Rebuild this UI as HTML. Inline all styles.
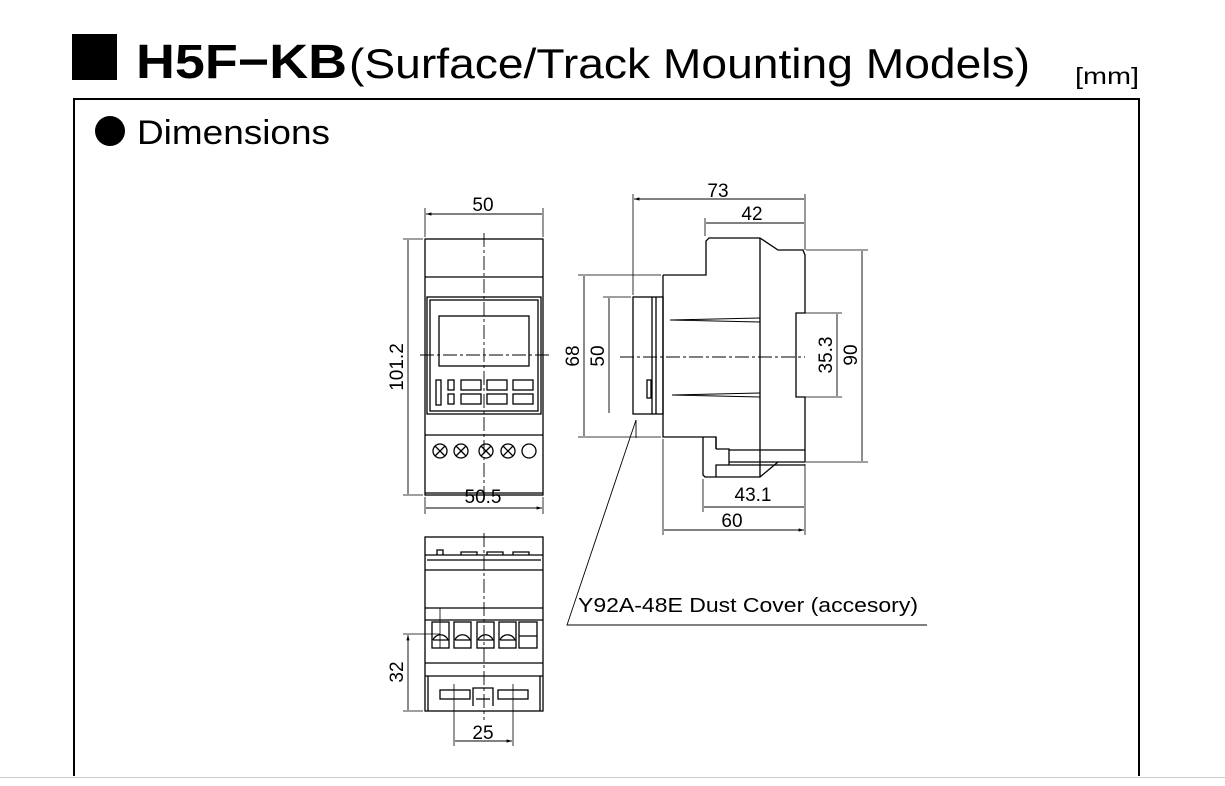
<!DOCTYPE html>
<html><head><meta charset="utf-8"><style>
body{margin:0;background:#fff;width:1225px;height:786px;overflow:hidden}
svg{display:block}
text{font-family:"Liberation Sans",sans-serif;fill:#000}
</style></head><body>
<svg width="1225" height="786" viewBox="0 0 1225 786">
<defs><marker id="a" viewBox="0 0 10 10" refX="10" refY="5" markerWidth="8" markerHeight="6" orient="auto-start-reverse"><path d="M0,2 L10,5 L0,8z" fill="#000"/></marker></defs>
<rect x="72" y="34" width="45" height="46" fill="#000"/>
<text x="136" y="78" font-size="48" font-weight="bold" textLength="211" lengthAdjust="spacingAndGlyphs">H5F−KB</text>
<text x="349" y="78" font-size="42" textLength="681" lengthAdjust="spacingAndGlyphs">(Surface/Track Mounting Models)</text>
<text x="1075" y="84" font-size="23" textLength="64" lengthAdjust="spacingAndGlyphs">[mm]</text>
<path d="M74,776 V99 H1139 V776" fill="none" stroke="#000" stroke-width="2"/>
<line x1="0" y1="777.5" x2="1225" y2="777.5" stroke="#ccc"/>
<circle cx="110" cy="131" r="15" fill="#000"/>
<text x="137" y="144" font-size="34" textLength="193" lengthAdjust="spacingAndGlyphs">Dimensions</text>
<g fill="none" stroke="#000" stroke-width="1.3">
<!-- front view -->
<rect x="425" y="239" width="118" height="256"/>
<line x1="425" y1="277" x2="543" y2="277"/>
<rect x="427" y="297" width="114" height="117"/><rect x="430" y="300" width="108" height="111"/>
<rect x="439" y="316" width="90" height="50"/>
<rect x="436" y="380" width="5" height="25"/>
<rect x="448" y="380" width="6" height="10"/><rect x="448" y="394" width="6" height="10"/>
<rect x="461" y="380" width="20" height="10"/><rect x="461" y="394" width="20" height="10"/>
<rect x="487" y="380" width="20" height="10"/><rect x="487" y="394" width="20" height="10"/>
<rect x="513" y="380" width="20" height="10"/><rect x="513" y="394" width="20" height="10"/>
<line x1="425" y1="435" x2="543" y2="435"/><line x1="425" y1="493" x2="543" y2="493"/>
<g><circle cx="440" cy="451" r="7"/><path d="M435,446l10,10M445,446l-10,10"/>
<circle cx="461" cy="451" r="7"/><path d="M456,446l10,10M466,446l-10,10"/>
<circle cx="486" cy="451" r="7"/><path d="M481,446l10,10M491,446l-10,10"/>
<circle cx="508" cy="451" r="7"/><path d="M503,446l10,10M513,446l-10,10"/>
<circle cx="529" cy="451" r="7"/></g>
<path d="M484,233V502M420,355H549" stroke-dasharray="14,3,3,3" stroke-width="0.9"/>
<path d="M425,208V237M543,208V237M425,497V514M543,497V514M403,239H423M403,495H423" stroke-width="0.8"/>
<path d="M426,214H542M408,240V494M426,508H542" marker-start="url(#a)" marker-end="url(#a)" stroke-width="0.9"/>
<!-- side view -->
<path d="M663,275H706V241L709,238H760L778,250H803L805,255V313H796V397H805V462H729M663,275V437H716V449"/>
<line x1="760" y1="238" x2="760" y2="477"/>
<path d="M703,437V475L705,477H760L778,462"/>
<path d="M716,449H729V465H716V477M716,437V449M729,450H805M717,465H805" />
<rect x="633" y="297" width="30" height="117"/>
<line x1="652" y1="297" x2="652" y2="414"/><line x1="656" y1="297" x2="656" y2="414"/>
<rect x="647" y="380" width="4" height="18"/>
<path d="M670,320L760,322M760,318L670,320M672,395L760,393M760,397L672,395" stroke-width="0.9"/>
<path d="M620,357H805" stroke-dasharray="14,3,3,3" stroke-width="0.9"/>
<path d="M633,194V295M805,194V250M705,218V236M578,275H661M603,297H631M578,437H661M806,250H868M806,462H868M798,313H842M798,397H842M703,479V512M663,439V535M805,464V535" stroke-width="0.8"/>
<path d="M634,199H804M706,223H804M584,276V436M609,298V413M862,251V461M837,314V396M704,507H804M664,530H804" marker-start="url(#a)" marker-end="url(#a)" stroke-width="0.9"/>
<path d="M636,420L567,625H927" stroke-width="0.9"/>
<line x1="636" y1="420" x2="636" y2="438" stroke-width="0.9"/>
<!-- bottom view -->
<rect x="425" y="537" width="118" height="174"/>
<path d="M425,555H543M427,560H541M425,570H543M425,608H543M425,620H543M425,663H543M425,676H543M428,711V676M540,711V676"/>
<path d="M437,555V550H443V555M461,555V552H477V555M487,555V552H503V555M513,555V552H529V555"/>
<g><rect x="432" y="622" width="17" height="26"/><path d="M433,640A8,8 0 0 1 448,640H433"/>
<rect x="454" y="622" width="17" height="26"/><path d="M455,640A8,8 0 0 1 470,640H455"/>
<rect x="477" y="622" width="17" height="26"/><path d="M478,640A8,8 0 0 1 493,640H478"/>
<rect x="499" y="622" width="17" height="26"/><path d="M500,640A8,8 0 0 1 515,640H500"/>
<rect x="519" y="622" width="18" height="26"/><line x1="519" y1="636" x2="537" y2="636"/></g>
<rect x="440" y="690" width="30" height="9"/><rect x="498" y="690" width="30" height="9"/>
<path d="M473,706V688H493V706M476,699H490"/>
<path d="M484,533V720" stroke-dasharray="14,3,3,3" stroke-width="0.9"/>
<path d="M440,608V648M403,634H440M403,711H423M454,684V746M513,684V746" stroke-width="0.8"/>
<path d="M408,635V710M455,741H512" marker-start="url(#a)" marker-end="url(#a)" stroke-width="0.9"/>
</g>
<g font-size="19" text-anchor="middle">
<text x="483" y="211">50</text>
<text x="483" y="503">50.5</text>
<text x="718" y="197">73</text>
<text x="752" y="220">42</text>
<text x="753" y="501">43.1</text>
<text x="732" y="527">60</text>
<text x="483" y="739">25</text>
<text transform="translate(403,367) rotate(-90)">101.2</text>
<text transform="translate(579,356) rotate(-90)">68</text>
<text transform="translate(604,356) rotate(-90)">50</text>
<text transform="translate(832,355) rotate(-90)">35.3</text>
<text transform="translate(857,355) rotate(-90)">90</text>
<text transform="translate(403,672) rotate(-90)">32</text>
</g>
<text x="578" y="612" font-size="20" textLength="340" lengthAdjust="spacingAndGlyphs">Y92A-48E Dust Cover (accesory)</text>
</svg>
</body></html>
